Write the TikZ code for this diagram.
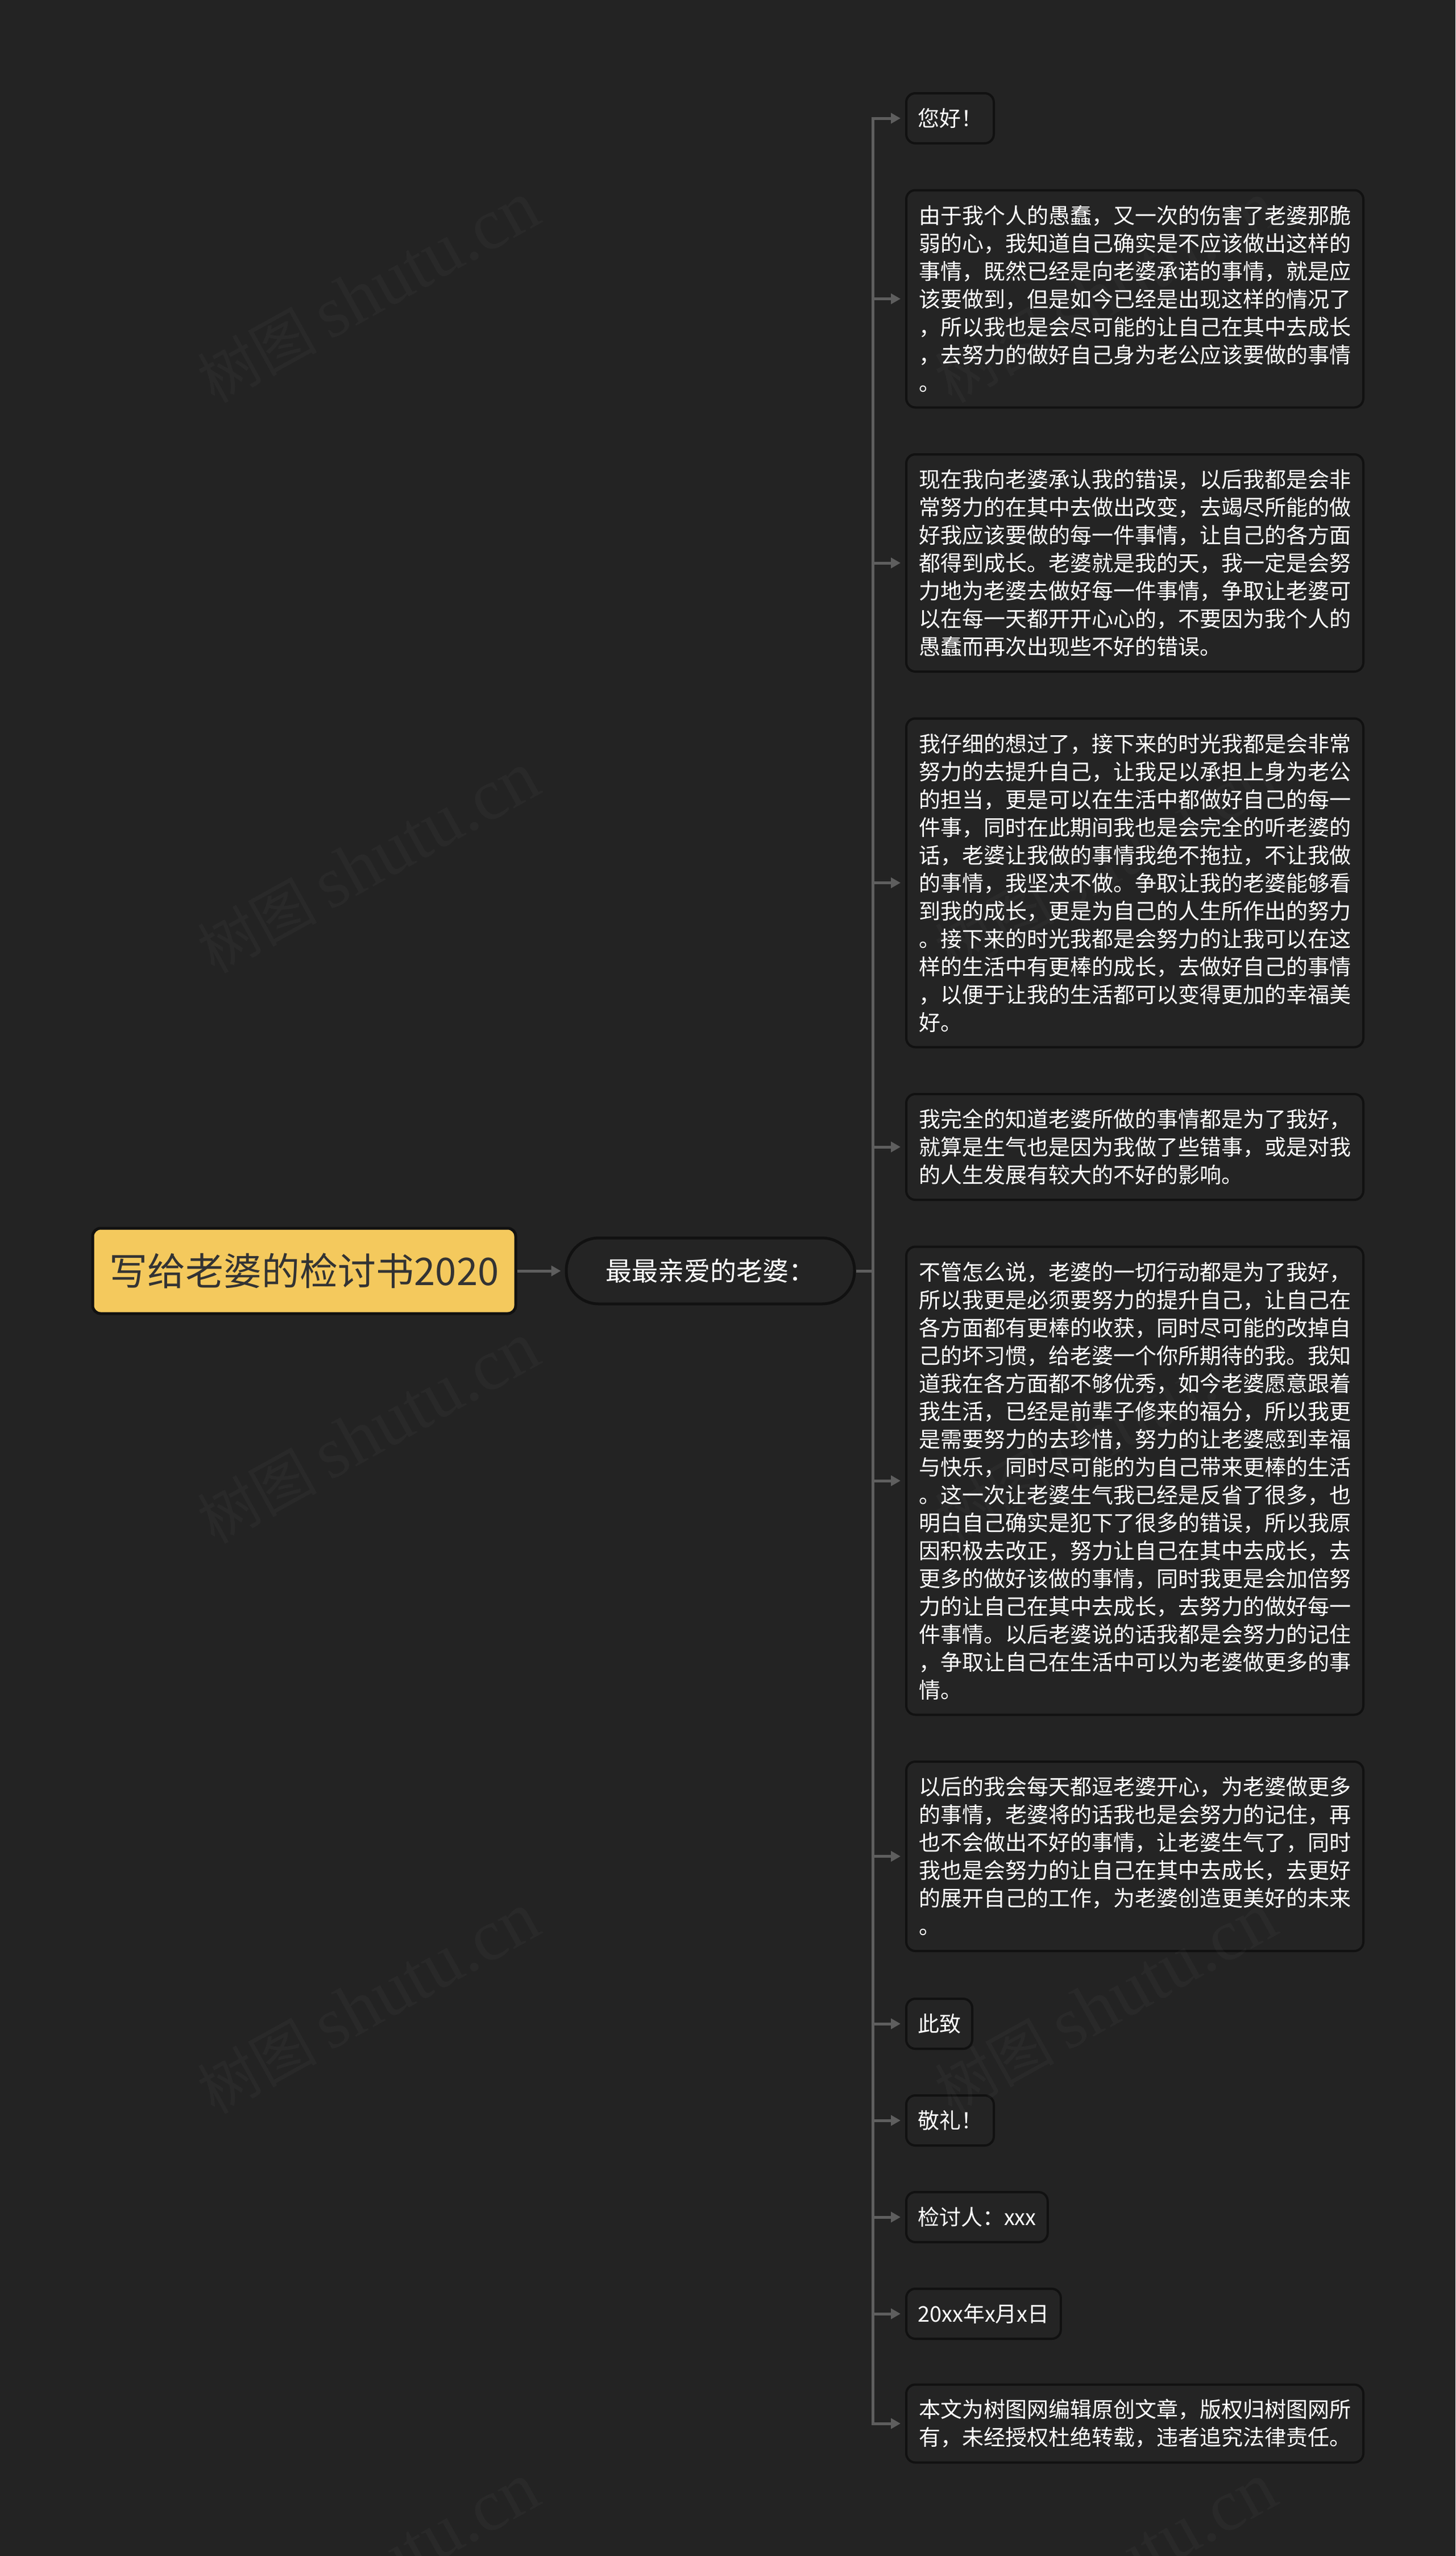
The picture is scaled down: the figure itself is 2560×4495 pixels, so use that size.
\documentclass[tikz,border=0pt]{standalone}
\usepackage{fontspec}
\setmainfont{Noto Sans CJK SC}
\newfontfamily\wmlatin{Liberation Serif}
\usetikzlibrary{arrows.meta}
\definecolor{bg}{HTML}{232323}
\definecolor{boxfill}{HTML}{242424}
\definecolor{boxline}{HTML}{111111}
\definecolor{linec}{HTML}{5E5E5E}
\definecolor{rootfill}{HTML}{F4C95D}
\definecolor{roottext}{HTML}{333333}
\tikzset{
  rootbox/.style={draw=boxline, line width=5pt, fill=rootfill, rounded corners=14pt,
    minimum width=744pt, minimum height=150pt, text=roottext,
    font=\fontsize{67}{74}\selectfont, inner sep=0pt},
  midbox/.style={draw=boxline, line width=5pt, fill=boxfill, rounded corners=57pt,
    minimum width=507pt, minimum height=116pt, text=white,
    font=\fontsize{46}{50}\selectfont, inner sep=0pt},
  leaf/.style={draw=boxline, line width=4pt, fill=boxfill, rounded corners=16pt,
    text=white, font=\fontsize{38}{49}\selectfont, align=left,
    inner xsep=20pt, inner ysep=4pt, anchor=west},
  wide/.style={minimum width=804pt},
  arr/.style={draw=linec, line width=5pt, -{Triangle[length=17pt,width=18pt]}},
  plainline/.style={draw=linec, line width=5pt},
  wm/.style={text=white, text opacity=0.028, rotate=29,
    font=\fontsize{105}{110}\selectfont, inner sep=0pt},
}
\begin{document}
\begin{tikzpicture}[x=1pt,y=-1pt]
\fill[bg] (0,0) rectangle (2560,4495);
\useasboundingbox (0,0) rectangle (2560,4495);

\node[rootbox] (root) at (535,2235) {写给老婆的检讨书2020};
\node[midbox] (mid) at (1249.5,2235) {最最亲爱的老婆：};
\coordinate (tj) at (1535,2235);

\node[leaf, minimum height=88pt] (b1) at (1592,208) {您好！};
\node[leaf, wide, minimum height=382pt] (b2) at (1592,525.5) {由于我个人的愚蠢，又一次的伤害了老婆那脆\\弱的心，我知道自己确实是不应该做出这样的\\事情，既然已经是向老婆承诺的事情，就是应\\该要做到，但是如今已经是出现这样的情况了\\，所以我也是会尽可能的让自己在其中去成长\\，去努力的做好自己身为老公应该要做的事情\\。};
\node[leaf, wide, minimum height=382pt] (b3) at (1592,990) {现在我向老婆承认我的错误，以后我都是会非\\常努力的在其中去做出改变，去竭尽所能的做\\好我应该要做的每一件事情，让自己的各方面\\都得到成长。老婆就是我的天，我一定是会努\\力地为老婆去做好每一件事情，争取让老婆可\\以在每一天都开开心心的，不要因为我个人的\\愚蠢而再次出现些不好的错误。};
\node[leaf, wide, minimum height=578pt] (b4) at (1592,1552.5) {我仔细的想过了，接下来的时光我都是会非常\\努力的去提升自己，让我足以承担上身为老公\\的担当，更是可以在生活中都做好自己的每一\\件事，同时在此期间我也是会完全的听老婆的\\话，老婆让我做的事情我绝不拖拉，不让我做\\的事情，我坚决不做。争取让我的老婆能够看\\到我的成长，更是为自己的人生所作出的努力\\。接下来的时光我都是会努力的让我可以在这\\样的生活中有更棒的成长，去做好自己的事情\\，以便于让我的生活都可以变得更加的幸福美\\好。};
\node[leaf, wide, minimum height=186pt] (b5) at (1592,2017) {我完全的知道老婆所做的事情都是为了我好，\\就算是生气也是因为我做了些错事，或是对我\\的人生发展有较大的不好的影响。};
\node[leaf, wide, minimum height=823pt] (b6) at (1592,2604) {不管怎么说，老婆的一切行动都是为了我好，\\所以我更是必须要努力的提升自己，让自己在\\各方面都有更棒的收获，同时尽可能的改掉自\\己的坏习惯，给老婆一个你所期待的我。我知\\道我在各方面都不够优秀，如今老婆愿意跟着\\我生活，已经是前辈子修来的福分，所以我更\\是需要努力的去珍惜，努力的让老婆感到幸福\\与快乐，同时尽可能的为自己带来更棒的生活\\。这一次让老婆生气我已经是反省了很多，也\\明白自己确实是犯下了很多的错误，所以我原\\因积极去改正，努力让自己在其中去成长，去\\更多的做好该做的事情，同时我更是会加倍努\\力的让自己在其中去成长，去努力的做好每一\\件事情。以后老婆说的话我都是会努力的记住\\，争取让自己在生活中可以为老婆做更多的事\\情。};
\node[leaf, wide, minimum height=333pt] (b7) at (1592,3264.5) {以后的我会每天都逗老婆开心，为老婆做更多\\的事情，老婆将的话我也是会努力的记住，再\\也不会做出不好的事情，让老婆生气了，同时\\我也是会努力的让自己在其中去成长，去更好\\的展开自己的工作，为老婆创造更美好的未来\\。};
\node[leaf, minimum height=88pt] (b8) at (1592,3559) {此致};
\node[leaf, minimum height=88pt] (b9) at (1592,3729) {敬礼！};
\node[leaf, minimum height=88pt] (b10) at (1592,3899) {检讨人：xxx};
\node[leaf, minimum height=88pt] (b11) at (1592,4069) {20xx年x月x日};
\node[leaf, wide, minimum height=137pt] (b12) at (1592,4262) {本文为树图网编辑原创文章，版权归树图网所\\有，未经授权杜绝转载，违者追究法律责任。};

\draw[arr, shorten >=7pt] (root.east) -- (mid.west);
\draw[plainline] (mid.east) -- (tj);
\foreach \b in {b1,b2,b3,b4,b5,b6,b7,b8,b9,b10,b11,b12}{
  \draw[arr, shorten >=8pt] (tj) |- (\b.west);
}

\foreach \wx/\wn in {648/l,1945/r}{
  \foreach \wy/\wi in {515/1,1518/2,2521/3,3524/4,4527/5}{
    \node[wm] (wm\wn\wi) at (\wx,\wy) {树图\hspace{22pt}{\wmlatin\fontsize{128}{130}\selectfont shutu.cn}};
  }
}
\end{tikzpicture}
\end{document}
